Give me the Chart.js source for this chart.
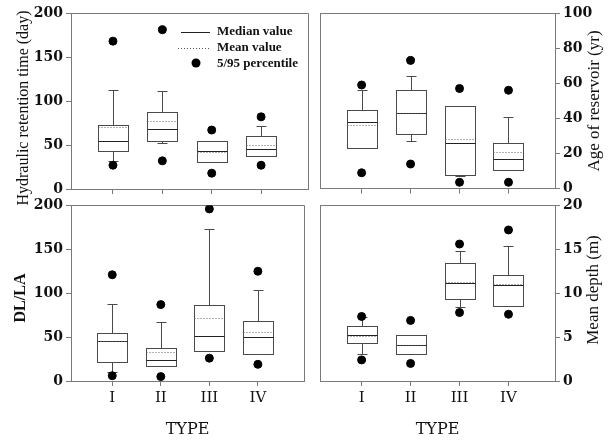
<!DOCTYPE html>
<html>
<head>
<meta charset="utf-8">
<script src="https://cdn.jsdelivr.net/npm/chart.js@4.4.0/dist/chart.umd.min.js"></script>
<style>
  body { margin: 0; background: #fff; }
  #wrap { position: relative; width: 616px; height: 440px; overflow: hidden; }
  canvas { position: absolute; }
</style>
</head>
<body>
<div id="wrap">
  <canvas id="c1" width="320" height="215" style="left:0;top:0"></canvas>
  <canvas id="c2" width="306" height="200" style="left:310px;top:0"></canvas>
  <canvas id="c3" width="320" height="246" style="left:0;top:194px"></canvas>
  <canvas id="c4" width="306" height="246" style="left:310px;top:194px"></canvas>
</div>
<script>
const typeNames = ['I', 'II', 'III', 'IV'];

// hydraulic retention time (day)
const hrtP5 = [27, 32, 18, 27];
const hrtLow = [32, 52, null, null];
const hrtQ1 = [43, 55, 31, 38];
const hrtMedian = [55, 68, 43, 45];
const hrtMean = [70, 77, 42, 50];
const hrtQ3 = [73, 87, 55, 60];
const hrtHigh = [112, 111, null, 72];
const hrtP95 = [168, 181, 67, 82];

// age of reservoir (yr)
const ageP5 = [9, 14, 3.6, 3.6];
const ageLow = [null, 27, 7, null];
const ageQ1 = [23, 31, 8, 10.4];
const ageMedian = [38, 43, 26, 17];
const ageMean = [36, 43, 28, 21];
const ageQ3 = [45, 56, 47, 26];
const ageHigh = [56, 64, null, 41];
const ageP95 = [59, 73, 57, 56];

// DL/LA
const dlP5 = [6, 5, 26, 19];
const dlLow = [10, null, null, null];
const dlQ1 = [22, 17, 34, 31];
const dlMedian = [45, 24, 51, 50];
const dlMean = [45, 33, 72, 56];
const dlQ3 = [55, 38, 87, 68];
const dlHigh = [88, 67, 173, 104];
const dlP95 = [121, 87, 196, 125];

// mean depth (m)
const depP5 = [2.4, 2.0, 7.8, 7.6];
const depLow = [3.1, null, 8.4, null];
const depQ1 = [4.3, 3.1, 9.3, 8.5];
const depMedian = [5.2, 4.1, 11.2, 10.9];
const depMean = [5.1, 4.05, 11.3, 11.0];
const depQ3 = [6.3, 5.2, 13.4, 12.1];
const depHigh = [7.3, null, 14.8, 15.4];
const depP95 = [7.35, 6.9, 15.6, 17.2];

const axisGray = '#7a7a7a';
const tickFont = { family: 'DejaVu Serif', size: 14, weight: 'bold' };
const catFont = { family: 'DejaVu Serif', size: 15 };

function boxPlugin(p) {
    return {
        id: 'boxes',
        beforeDatasetsDraw: function (chart) {
            const ctx = chart.ctx, xs = chart.scales.x, ys = chart.scales.y, a = chart.chartArea;
            ctx.save();
            ctx.lineWidth = 1;
            ctx.strokeStyle = axisGray;
            // top and right edges of the frame, the axes draw the other two
            ctx.beginPath();
            ctx.moveTo(Math.round(a.left), Math.round(a.top) + 0.5);
            ctx.lineTo(Math.round(a.right) + 0.5, Math.round(a.top) + 0.5);
            ctx.lineTo(Math.round(a.right) + 0.5, Math.round(a.bottom));
            ctx.moveTo(Math.round(a.left) + 0.5, Math.round(a.top));
            ctx.lineTo(Math.round(a.left) + 0.5, Math.round(a.bottom));
            ctx.stroke();

            for (let i = 0; i < p.q1.length; i++) {
                const cx = Math.round(xs.getPixelForValue(i + 1)) + 0.5;
                const l = cx - 15, r = cx + 15;
                const y1 = Math.round(ys.getPixelForValue(p.q1[i])) + 0.5;
                const y3 = Math.round(ys.getPixelForValue(p.q3[i])) + 0.5;
                ctx.setLineDash([]);
                ctx.strokeStyle = '#4a4a4a';
                ctx.strokeRect(l, y3, r - l, y1 - y3);
                // whiskers
                [[p.high[i], y3], [p.low[i], y1]].forEach(function (w) {
                    if (w[0] === null) return;
                    const yw = Math.round(ys.getPixelForValue(w[0])) + 0.5;
                    ctx.beginPath();
                    ctx.moveTo(cx, w[1]);
                    ctx.lineTo(cx, yw);
                    ctx.moveTo(cx - 5, yw);
                    ctx.lineTo(cx + 5, yw);
                    ctx.stroke();
                });
                // median
                const ym = Math.round(ys.getPixelForValue(p.median[i])) + 0.5;
                ctx.strokeStyle = '#222';
                ctx.beginPath();
                ctx.moveTo(l, ym);
                ctx.lineTo(r, ym);
                ctx.stroke();
                // mean
                const ya = Math.round(ys.getPixelForValue(p.mean[i])) + 0.5;
                ctx.strokeStyle = '#666';
                ctx.setLineDash([1, 2]);
                ctx.beginPath();
                ctx.moveTo(l, ya);
                ctx.lineTo(r, ya);
                ctx.stroke();
            }

            if (p.legend) {
                ctx.setLineDash([]);
                ctx.strokeStyle = '#222';
                ctx.beginPath();
                ctx.moveTo(181, 32.5);
                ctx.lineTo(210, 32.5);
                ctx.stroke();
                ctx.strokeStyle = '#555';
                ctx.setLineDash([1, 2]);
                ctx.beginPath();
                ctx.moveTo(178, 48.5);
                ctx.lineTo(210, 48.5);
                ctx.stroke();
                ctx.setLineDash([]);
                ctx.fillStyle = '#000';
                ctx.beginPath();
                ctx.arc(196, 63, 4.5, 0, Math.PI * 2);
                ctx.fill();
                ctx.font = 'bold 13px "Liberation Serif"';
                ctx.textBaseline = 'middle';
                ctx.fillStyle = '#111';
                ctx.fillText('Median value', 217, 32);
                ctx.fillText('Mean value', 217, 48);
                ctx.fillText('5/95 percentile', 217, 64);
            }
            ctx.restore();
        },
        afterDraw: function (chart) {
            // y titles read bottom to top on both sides
            const ctx = chart.ctx;
            ctx.save();
            ctx.translate(p.tx, p.ty);
            ctx.rotate(-Math.PI / 2);
            ctx.font = p.tfont;
            ctx.fillStyle = '#111';
            ctx.textAlign = 'center';
            ctx.textBaseline = 'middle';
            ctx.fillText(p.title, 0, 0);
            ctx.restore();
        }
    };
}

function makePanel(id, p) {
    const pts = [];
    p.p5.forEach(function (v, i) {
        pts.push({ x: i + 1, y: v });
        pts.push({ x: i + 1, y: p.p95[i] });
    });
    return new Chart(document.getElementById(id), {
        type: 'scatter',
        data: {
            datasets: [{
                data: pts,
                pointRadius: 4,
                pointHoverRadius: 4,
                backgroundColor: '#000',
                borderColor: '#000'
            }]
        },
        options: {
            responsive: false,
            animation: false,
            events: [],
            layout: { padding: p.pad },
            plugins: { legend: { display: false }, tooltip: { enabled: false } },
            scales: {
                x: {
                    type: 'linear',
                    min: 0.15,
                    max: 4.95,
                    afterBuildTicks: function (s) {
                        s.ticks = typeNames.map(function (n, i) { return { value: i + 1 }; });
                    },
                    afterFit: function (s) { s.height = p.xh; },
                    grid: { drawOnChartArea: false, drawTicks: true, tickLength: 5, color: axisGray },
                    border: { color: axisGray },
                    ticks: {
                        display: p.xlab,
                        font: catFont,
                        color: '#111',
                        padding: 3,
                        callback: function (v) { return typeNames[v - 1]; }
                    },
                    title: { display: p.xlab, text: 'TYPE', font: { family: 'DejaVu Serif', size: 16 }, color: '#111', padding: { top: 4, bottom: 0 } }
                },
                y: {
                    position: p.side,
                    min: 0,
                    max: p.max,
                    afterFit: function (s) { s.width = p.yw; },
                    grid: { drawOnChartArea: false, drawTicks: true, tickLength: 5, color: axisGray },
                    border: { color: axisGray },
                    ticks: { stepSize: p.step, font: tickFont, color: '#111', padding: 3 },
                    title: { display: false }
                }
            }
        },
        plugins: [boxPlugin(p)]
    });
}

makePanel('c1', {
    q1: hrtQ1, q3: hrtQ3, median: hrtMedian, mean: hrtMean, low: hrtLow, high: hrtHigh, p5: hrtP5, p95: hrtP95,
    max: 200, step: 50, side: 'left', xlab: false, legend: true,
    title: 'Hydraulic retention time (day)', tfont: '16px "Liberation Serif"', tx: 24, ty: 108,
    pad: { left: 10, top: 13, right: 12, bottom: 0 }, yw: 61, xh: 26
});
makePanel('c2', {
    q1: ageQ1, q3: ageQ3, median: ageMedian, mean: ageMean, low: ageLow, high: ageHigh, p5: ageP5, p95: ageP95,
    max: 100, step: 20, side: 'right', xlab: false, legend: false,
    title: 'Age of reservoir (yr)', tfont: '17px "Liberation Serif"', tx: 285, ty: 101,
    pad: { left: 10, top: 13, right: 8, bottom: 0 }, yw: 53, xh: 10
});
makePanel('c3', {
    q1: dlQ1, q3: dlQ3, median: dlMedian, mean: dlMean, low: dlLow, high: dlHigh, p5: dlP5, p95: dlP95,
    max: 200, step: 50, side: 'left', xlab: true, legend: false,
    title: 'DL/LA', tfont: 'bold 16px "Liberation Serif"', tx: 21, ty: 104,
    pad: { left: 10, top: 10, right: 16, bottom: 1 }, yw: 61, xh: 58
});
makePanel('c4', {
    q1: depQ1, q3: depQ3, median: depMedian, mean: depMean, low: depLow, high: depHigh, p5: depP5, p95: depP95,
    max: 20, step: 5, side: 'right', xlab: true, legend: false,
    title: 'Mean depth (m)', tfont: '17px "Liberation Serif"', tx: 284, ty: 96,
    pad: { left: 10, top: 10, right: 8, bottom: 1 }, yw: 53, xh: 58
});
</script>
</body>
</html>
